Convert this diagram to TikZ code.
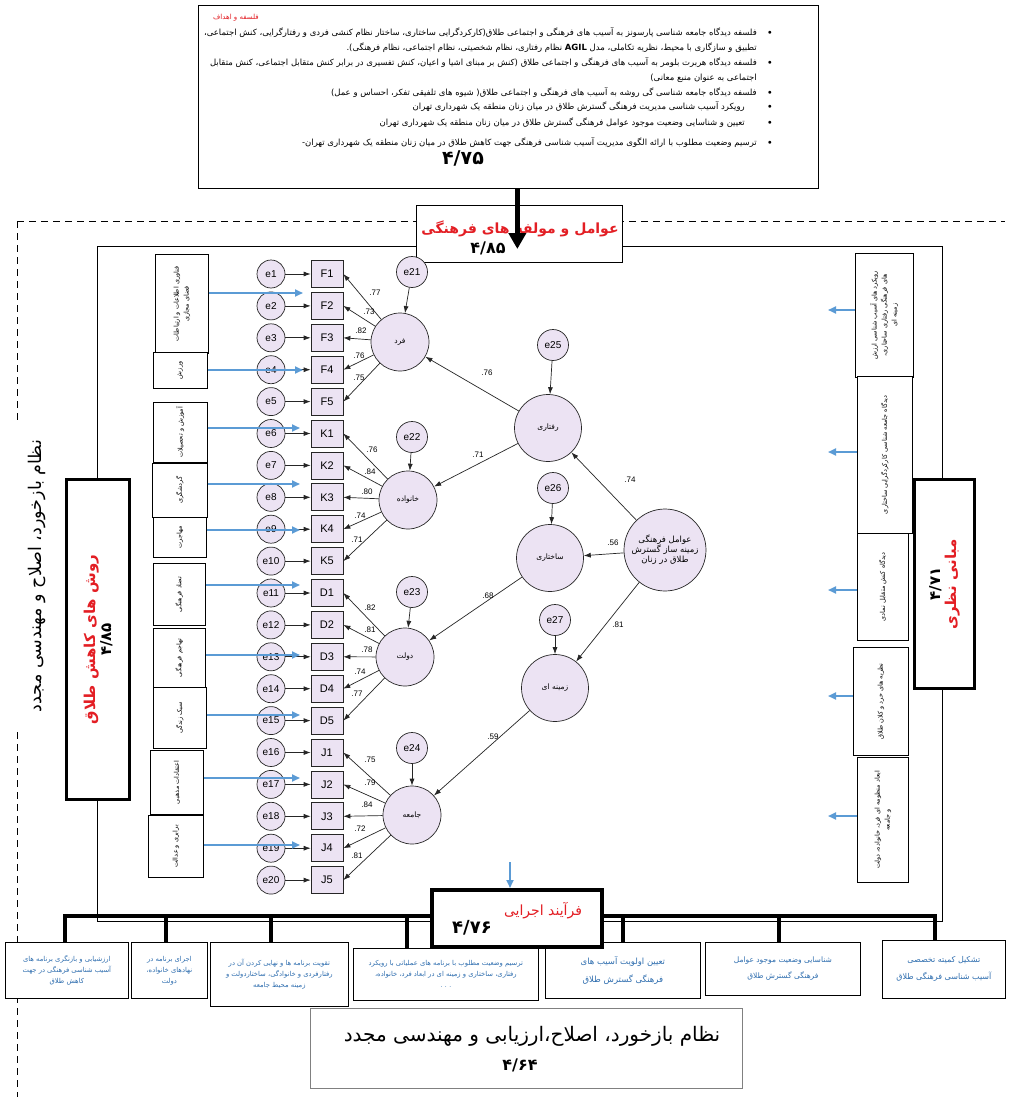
\documentclass[tikz,border=0pt]{standalone}
\usepackage{fontspec}
\setmainfont{Liberation Sans}
\newfontfamily\arabicfont[Script=Arabic]{DejaVu Sans}
\TeXXeTstate=1
\usetikzlibrary{arrows.meta,calc}
\newcommand{\fa}[1]{{\arabicfont\beginR #1\endR}}
\newcommand{\fsz}[2]{\fontsize{#1}{#2}\selectfont}
\definecolor{lav}{HTML}{ECE3F3}
\definecolor{sky}{HTML}{5B9BD5}
\definecolor{txtblue}{HTML}{2F6EAF}
\definecolor{redt}{HTML}{E31E24}
\begin{document}
\begin{tikzpicture}[x=1pt,y=-1pt,
  box/.style={draw=black, line width=0.7pt, fill=white, inner sep=0pt},
  thickbox/.style={draw=black, line width=3pt, fill=white, inner sep=0pt},
  errc/.style={circle, draw=black!85, line width=0.7pt, fill=lav, minimum size=28pt, inner sep=0pt, font=\fsz{10}{10}},
  ind/.style={rectangle, draw=black!85, line width=0.7pt, fill=lav, minimum width=32pt, minimum height=27pt, inner sep=0pt, font=\fsz{11}{11}},
  lat/.style={circle, draw=black!85, line width=0.7pt, fill=lav, minimum size=58pt, inner sep=0pt, font=\fsz{7.5}{9}},
  slat/.style={lat, minimum size=67pt},
  semarr/.style={-{Latex[length=7pt,width=5pt]}, black!85, line width=0.7pt},
  bluearr/.style={-{Triangle[length=8pt,width=7pt]}, sky, line width=1.8pt},
  coef/.style={font=\fsz{8}{8}, inner sep=0pt},
  toptxt/.style={anchor=east, inner sep=0pt, font=\fsz{8.5}{9}},
  bul/.style={inner sep=0pt, font=\fsz{7}{7}},
  sidetxt/.style={rotate=90, align=center, inner sep=0pt, font=\fsz{6.5}{10}},
  btmbox/.style={box, anchor=north west, align=center, text=txtblue, font=\fsz{6.8}{11}},
  dashline/.style={dash pattern=on 7pt off 5pt, line width=1pt},
  bus/.style={line width=4pt}
]
\useasboundingbox (0,0) rectangle (1009,1097);
\fill[white] (0,0) rectangle (1009,1097);

% dashed feedback frame
\coordinate (dl0) at (17,221);
\coordinate (dr0) at (1005,221);
\coordinate (dv1) at (17,420);
\coordinate (dv2) at (17,732);
\coordinate (dv3) at (17,1097);
\draw[dashline] (dl0) -- (dr0);
\draw[dashline] (dl0) -- (dv1);
\draw[dashline] (dv2) -- (dv3);
\node[rotate=90, inner sep=0pt, font=\fsz{17.5}{17}] (fbtxt) at (37,576) {\fa{نظام بازخورد، اصلاح و مهندسی مجدد}};

% main rectangle
\node[draw=black, line width=0.8pt, minimum width=845pt, minimum height=675pt, anchor=north west, inner sep=0pt] (mainrect) at (97,246) {};

% top box
\node[box, minimum width=620pt, minimum height=183pt, anchor=north west] (topbox) at (198,5) {};
\node[inner sep=0pt, text=redt, font=\fsz{7}{7}] (toptitle) at (236,18) {\fa{فلسفه و اهداف}};
\node[toptxt] (t1) at (757,33) {\fa{فلسفه دیدگاه جامعه شناسی پارسونز به آسیب های فرهنگی و اجتماعی طلاق(کارکردگرایی ساختاری، ساختار نظام کنشی فردی و رفتارگرایی، کنش اجتماعی،}};
\node[toptxt] (t2) at (757,48) {\fa{تطبیق و سازگاری با محیط، نظریه تکاملی، مدل {\bfseries AGIL} نظام رفتاری، نظام شخصیتی، نظام اجتماعی، نظام فرهنگی).}};
\node[toptxt] (t3) at (757,63) {\fa{فلسفه دیدگاه هربرت بلومر به آسیب های فرهنگی و اجتماعی طلاق (کنش بر مبنای اشیا و اعیان، کنش تفسیری در برابر کنش متقابل اجتماعی، کنش متقابل}};
\node[toptxt] (t4) at (757,78) {\fa{اجتماعی به عنوان منبع معانی)}};
\node[toptxt] (t5) at (757,93) {\fa{فلسفه دیدگاه جامعه شناسی گی روشه به آسیب های فرهنگی و اجتماعی طلاق( شیوه های تلفیقی تفکر، احساس و عمل)}};
\node[toptxt] (t6) at (745,107) {\fa{رویکرد آسیب شناسی مدیریت فرهنگی گسترش طلاق در میان زنان منطقه یک شهرداری تهران}};
\node[toptxt] (t7) at (745,123) {\fa{تعیین و شناسایی وضعیت موجود عوامل فرهنگی گسترش طلاق در میان زنان منطقه یک شهرداری تهران}};
\node[toptxt] (t8) at (757,143) {\fa{ترسیم وضعیت مطلوب با ارائه الگوی مدیریت آسیب شناسی فرهنگی جهت کاهش طلاق در میان زنان منطقه یک شهرداری تهران-}};
\foreach \yy/\nm in {33/b1,63/b3,93/b5,107/b6,123/b7,143/b8}
  \node[bul] (\nm) at (770,\yy) {$\bullet$};
\node[inner sep=0pt, font=\fsz{19}{19}\bfseries] (topnum) at (463,158) {\arabicfont ۴/۷۵};

% cultural factors box
\node[box, minimum width=206pt, minimum height=57pt, anchor=north west] (cfbox) at (416,205) {};
\node[inner sep=0pt, text=redt, font=\fsz{14}{14}\bfseries] (cftxt) at (520,229) {\fa{عوامل و مولفه های فرهنگی}};
\node[inner sep=0pt, font=\fsz{16}{16}\bfseries] (cfnum) at (488,248) {\arabicfont ۴/۸۵};
\draw[line width=5pt, -{Triangle[length=16pt,width=17pt]}] ($(topbox.south)+(9,0)$) -- ($(cfbox.north)+(-2,44)$);

% left thick box
\node[thickbox, minimum width=63pt, minimum height=320pt, anchor=north west] (lbox) at (65,478) {};
\node[rotate=90, inner sep=0pt, align=center, font=\fsz{15}{16}\bfseries] (ltxt) at (lbox.center) {\textcolor{redt}{\fa{روش های کاهش طلاق}}\\{\arabicfont ۴/۸۵}};

% right thick box
\node[thickbox, minimum width=60pt, minimum height=209pt, anchor=north west] (rbox) at (913,478) {};
\node[rotate=90, inner sep=0pt, align=center, font=\fsz{15}{16}\bfseries] (rtxt) at (rbox.center) {{\arabicfont ۴/۷۱}\\\textcolor{redt}{\fa{مبانی نظری}}};

% left side boxes
\node[box, minimum width=53pt, minimum height=99pt, anchor=north west] (L1) at (155,254) {};
\node[sidetxt] at (L1.center) {\fa{فناوری اطلاعات و ارتباطات}\\\fa{فضای مجازی}};
\node[box, minimum width=54pt, minimum height=36pt, anchor=north west] (L2) at (153,352) {};
\node[sidetxt] at (L2.center) {\fa{ورزش}};
\node[box, minimum width=54pt, minimum height=60pt, anchor=north west] (L3) at (153,402) {};
\node[sidetxt] at (L3.center) {\fa{آموزش و تحصیلات}};
\node[box, minimum width=55pt, minimum height=54pt, anchor=north west] (L4) at (152,463) {};
\node[sidetxt] at (L4.center) {\fa{گردشگری}};
\node[box, minimum width=53pt, minimum height=40pt, anchor=north west] (L5) at (153,517) {};
\node[sidetxt] at (L5.center) {\fa{مهاجرت}};
\node[box, minimum width=52pt, minimum height=62pt, anchor=north west] (L6) at (153,563) {};
\node[sidetxt] at (L6.center) {\fa{تضاد فرهنگی}};
\node[box, minimum width=52pt, minimum height=59pt, anchor=north west] (L7) at (153,628) {};
\node[sidetxt] at (L7.center) {\fa{تهاجم فرهنگی}};
\node[box, minimum width=53pt, minimum height=61pt, anchor=north west] (L8) at (153,687) {};
\node[sidetxt] at (L8.center) {\fa{سبک زندگی}};
\node[box, minimum width=53pt, minimum height=64pt, anchor=north west] (L9) at (150,750) {};
\node[sidetxt] at (L9.center) {\fa{اعتقادات مذهبی}};
\node[box, minimum width=55pt, minimum height=62pt, anchor=north west] (L10) at (148,815) {};
\node[sidetxt] at (L10.center) {\fa{برابری و عدالت}};

% right side boxes
\node[box, minimum width=58pt, minimum height=124pt, anchor=north west] (R1) at (855,253) {};
\node[sidetxt] at (R1.center) {\fa{رویکرد های آسیب شناسی ارزش}\\\fa{های فرهنگی رفتاری ساختاری،}\\\fa{زمینه ای}};
\node[box, minimum width=55pt, minimum height=157pt, anchor=north west] (R2) at (857,376) {};
\node[sidetxt] at (R2.center) {\fa{دیدگاه جامعه شناسی کارکردگرایی ساختاری}};
\node[box, minimum width=51pt, minimum height=107pt, anchor=north west] (R3) at (857,533) {};
\node[sidetxt] at (R3.center) {\fa{دیدگاه کنش متقابل نمادی}};
\node[box, minimum width=55pt, minimum height=108pt, anchor=north west] (R4) at (853,647) {};
\node[sidetxt] at (R4.center) {\fa{نظریه های خرد و کلان طلاق}};
\node[box, minimum width=51pt, minimum height=125pt, anchor=north west] (R5) at (857,757) {};
\node[sidetxt] at (R5.center) {\fa{ابعاد منظومه ای فرد، خانواده، دولت}\\\fa{و جامعه}};

% SEM indicators and errors
\foreach \n [count=\k] in {F1,F2,F3,F4,F5,K1,K2,K3,K4,K5,D1,D2,D3,D4,D5,J1,J2,J3,J4,J5} {
  \node[ind] (\n) at (327,{274+(\k-1)*31.9}) {\n};
  \node[errc] (e\k) at (271,{274+(\k-1)*31.9}) {e\k};
  \draw[semarr] (e\k) -- (\n);
}

% latent variables
\node[lat] (fard) at (400,342) {\fa{فرد}};
\node[lat] (khan) at (408,500) {\fa{خانواده}};
\node[lat] (dolat) at (405,657) {\fa{دولت}};
\node[lat] (jame) at (412,815) {\fa{جامعه}};
\node[slat] (raft) at (548,428) {\fa{رفتاری}};
\node[slat] (sakht) at (550,558) {\fa{ساختاری}};
\node[slat] (zam) at (555,688) {\fa{زمینه ای}};
\node[lat, minimum size=82pt, font=\fsz{8.5}{10}, align=center] (main) at (665,550) {\fa{عوامل فرهنگی}\\\fa{زمینه ساز گسترش}\\\fa{طلاق در زنان}};

\node[errc, minimum size=31pt] (e21) at (412,272) {e21};
\node[errc, minimum size=31pt] (e22) at (412,437) {e22};
\node[errc, minimum size=31pt] (e23) at (412,592) {e23};
\node[errc, minimum size=31pt] (e24) at (412,748) {e24};
\node[errc, minimum size=31pt] (e25) at (553,345) {e25};
\node[errc, minimum size=31pt] (e26) at (553,488) {e26};
\node[errc, minimum size=31pt] (e27) at (555,620) {e27};
\draw[semarr] (e21) -- (fard);
\draw[semarr] (e22) -- (khan);
\draw[semarr] (e23) -- (dolat);
\draw[semarr] (e24) -- (jame);
\draw[semarr] (e25) -- (raft);
\draw[semarr] (e26) -- (sakht);
\draw[semarr] (e27) -- (zam);

\foreach \n in {F1,F2,F3,F4,F5} \draw[semarr] (fard) -- (\n.east);
\foreach \n in {K1,K2,K3,K4,K5} \draw[semarr] (khan) -- (\n.east);
\foreach \n in {D1,D2,D3,D4,D5} \draw[semarr] (dolat) -- (\n.east);
\foreach \n in {J1,J2,J3,J4,J5} \draw[semarr] (jame) -- (\n.east);

\draw[semarr] (main) -- (raft);
\draw[semarr] (main) -- (sakht);
\draw[semarr] (main) -- (zam);
\draw[semarr] (raft) -- (fard);
\draw[semarr] (raft) -- (khan);
\draw[semarr] (sakht) -- (dolat);
\draw[semarr] (zam) -- (jame);

% coefficients
\foreach \v/\x/\y in {.77/375/293,.73/369/312,.82/361/331,.76/359/356,.75/359/378,
  .76/372/450,.84/370/472,.80/367/492,.74/360/516,.71/357/540,
  .82/370/608,.81/370/630,.78/367/650,.74/360/672,.77/357/694,
  .75/370/760,.79/370/783,.84/367/805,.72/360/829,.81/357/856,
  .76/487/373,.71/478/455,.74/630/480,.56/613/543,.68/488/596,.81/618/625,.59/493/737}
  \node[coef] at (\x,\y) {\v};

% blue arrows from left boxes
\foreach \b/\x/\y [count=\k] in {L1/303/293,L2/303/370,L3/300/428,L4/300/484,L5/300/530,L6/300/585,L7/300/655,L8/300/715,L9/300/778,L10/300/845} {
  \coordinate (a\k) at (\x,\y);
  \draw[bluearr] (\b.east |- a\k) -- (a\k);
}
% blue arrows from right boxes
\foreach \b/\y [count=\k] in {R1/310,R2/452,R3/590,R4/696,R5/816} {
  \coordinate (r\k) at (828,\y);
  \draw[bluearr] (\b.west |- r\k) -- (r\k);
}

% bottom boxes
\node[btmbox, minimum width=123pt, minimum height=56pt] (B1) at (5,942) {\fa{ارزشیابی و بازنگری برنامه های}\\\fa{آسیب شناسی فرهنگی در جهت}\\\fa{کاهش طلاق}};
\node[btmbox, minimum width=76pt, minimum height=56pt] (B2) at (131,942) {\fa{اجرای برنامه در}\\\fa{نهادهای خانواده،}\\\fa{دولت}};
\node[btmbox, minimum width=138pt, minimum height=64pt] (B3) at (210,942) {\fa{تقویت برنامه ها و نهایی کردن آن در}\\\fa{رفتارفردی و خانوادگی، ساختاردولت و}\\\fa{زمینه محیط جامعه}};
\node[btmbox, minimum width=185pt, minimum height=52pt] (B4) at (353,948) {\fa{ترسیم وضعیت مطلوب با برنامه های عملیاتی با رویکرد}\\\fa{رفتاری، ساختاری و زمینه ای در ابعاد فرد، خانواده،}\\. . .};
\node[btmbox, minimum width=155pt, minimum height=56pt, font=\fsz{8.5}{18}] (B5) at (545,942) {\fa{تعیین اولویت آسیب های}\\\fa{فرهنگی گسترش طلاق}};
\node[btmbox, minimum width=155pt, minimum height=53pt, font=\fsz{7.5}{16}] (B6) at (705,942) {\fa{شناسایی وضعیت موجود عوامل}\\\fa{فرهنگی گسترش طلاق}};
\node[btmbox, minimum width=123pt, minimum height=58pt, font=\fsz{8}{17}] (B7) at (882,940) {\fa{تشکیل کمیته تخصصی}\\\fa{آسیب شناسی فرهنگی طلاق}};

% bus
\coordinate (busL) at (63,916);
\coordinate (busR) at (937,916);
\draw[bus] (busL) -- (busR);
\coordinate (d1) at (65,916);
\coordinate (d2) at (166,916);
\coordinate (d3) at (271,916);
\coordinate (d4) at (407,916);
\coordinate (d5) at (623,916);
\coordinate (d6) at (779,916);
\coordinate (d7) at (935,916);
\foreach \k in {1,...,7} \draw[bus] (d\k) -- (d\k |- B\k.north);

% process box
\node[thickbox, line width=4pt, minimum width=170pt, minimum height=57pt, anchor=north west] (proc) at (430,888) {};
\node[inner sep=0pt, text=redt, font=\fsz{14}{14}] (proctxt) at (543,911) {\fa{فرآیند اجرایی}};
\node[inner sep=0pt, font=\fsz{18}{18}\bfseries] (procnum) at (472,928) {\arabicfont ۴/۷۶};
\coordinate (pa) at (510,862);
\draw[bluearr] (pa) -- (pa |- proc.north);

% bottom feedback box
\node[draw=black!50, line width=1.2pt, fill=white, minimum width=432pt, minimum height=80pt, anchor=north west, inner sep=0pt] (fbbox) at (310,1008) {};
\node[inner sep=0pt, font=\fsz{20}{20}] (fbtext) at (532,1036) {\fa{نظام بازخورد، اصلاح،ارزیابی و مهندسی مجدد}};
\node[inner sep=0pt, font=\fsz{16}{16}\bfseries] (fbnum) at (520,1065) {\arabicfont ۴/۶۴};
\end{tikzpicture}
\end{document}
